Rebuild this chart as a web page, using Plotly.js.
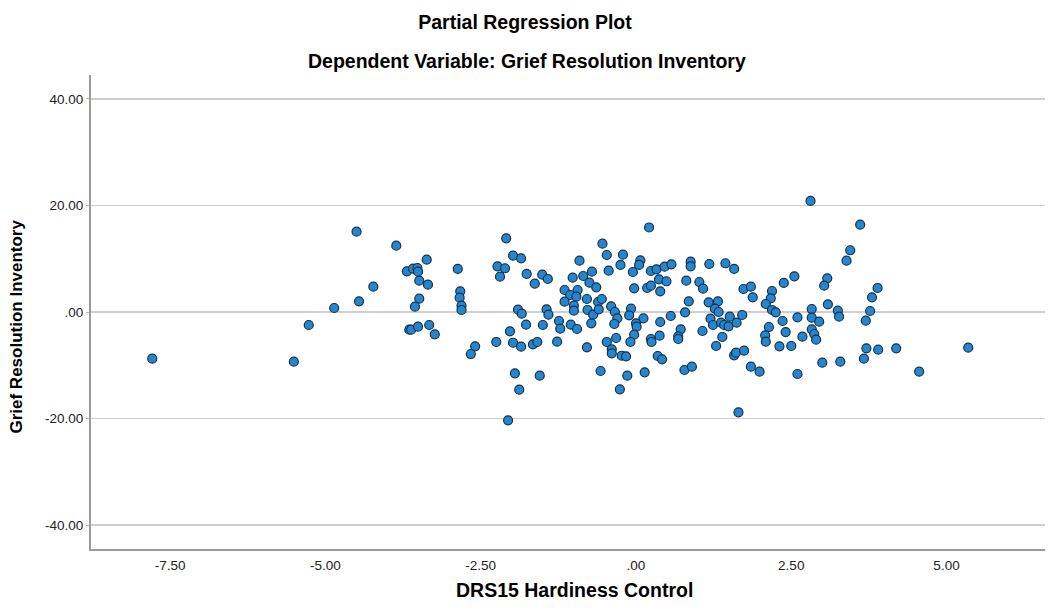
<!DOCTYPE html>
<html>
<head>
<meta charset="utf-8">
<script src="https://cdn.plot.ly/plotly-3.0.1.min.js"></script>
<style>html,body{margin:0;padding:0;background:#fff;}#chart{width:1050px;height:613px;}</style>
</head>
<body>
<div id="chart"></div>
<script>
// DRS15 Hardiness Control (partial residuals)
var hardiness = [
-7.79,-5.51,-5.27,-4.86,-4.50,-4.46,-4.23,-3.86,-3.37,-3.69,-3.59,-3.52,-3.51,-3.49,-3.35,-3.49,-3.56,-3.65,-3.62,-3.51,
-3.33,-3.24,-2.87,-2.83,-2.84,-2.81,-2.81,-2.59,-2.66,-2.25,-2.09,-1.98,-1.85,-2.23,-2.11,-2.19,-1.76,-1.90,-1.84,-1.77,
-2.03,-1.98,-1.85,-1.95,-1.88,-2.06,-1.51,-1.42,-1.63,-1.50,-1.44,-1.41,-1.66,-1.59,-1.55,-1.27,-1.24,-1.22,-1.05,-0.95,
-1.15,-0.94,-1.06,-0.96,-1.15,-1.02,-0.91,-0.85,-0.71,-0.75,-0.64,-1.00,-1.00,-0.79,-0.78,-0.69,-0.72,-0.61,-0.55,-0.60,
-0.79,-0.57,-0.54,-0.47,-0.44,-0.40,-0.34,-0.30,-0.35,-0.47,-0.32,-0.39,-0.39,-0.23,-0.16,-0.26,-0.14,-0.21,-0.25,-0.08,
-0.11,-0.05,-0.03,0.07,0.05,0.12,0.00,0.01,-0.03,-0.09,0.21,0.18,0.14,0.24,0.25,0.24,0.33,0.46,0.57,0.37,
0.49,0.24,0.39,0.88,0.88,1.18,1.44,1.58,0.81,1.02,1.08,0.85,0.79,0.56,0.39,0.38,0.72,0.68,0.68,0.35,
0.42,0.78,0.90,1.07,1.17,1.32,1.27,1.33,1.20,1.24,1.37,1.42,1.51,1.49,1.62,1.71,1.39,1.29,1.58,1.61,
1.74,1.85,1.99,1.65,1.73,1.85,1.88,2.19,2.17,2.09,2.19,2.25,2.38,2.55,2.36,2.41,2.14,2.08,2.09,2.31,
2.50,2.60,2.60,2.81,3.61,3.45,3.39,3.08,3.03,3.89,3.80,3.09,2.83,2.83,2.95,3.25,3.27,3.77,3.70,2.83,
2.87,2.90,2.68,3.00,3.29,3.71,3.67,3.90,4.19,4.56,5.35
];
// Grief Resolution Inventory (partial residuals)
var griefResolution = [
-8.77,-9.33,-2.44,0.75,15.08,2.01,4.75,12.45,9.82,7.64,8.13,8.26,7.57,5.88,5.13,2.50,1.00,-3.32,-3.32,-2.76,
-2.44,-4.19,8.08,3.89,2.69,1.18,0.38,-6.44,-7.89,-5.63,13.84,10.57,10.08,8.58,8.21,6.63,7.14,0.43,-0.32,-2.38,
-3.62,-5.77,-6.52,-11.51,-14.59,-20.34,7.00,6.20,5.31,-2.44,0.51,-0.51,-6.07,-5.63,-11.96,-5.58,-1.69,-3.14,-2.38,-3.19,
4.13,4.13,3.19,2.87,1.93,6.44,9.63,6.76,7.57,5.50,4.64,1.18,0.24,2.44,0.38,-0.51,-2.12,1.88,2.44,0.51,
-6.63,-11.08,12.83,10.70,7.76,1.07,0.00,-1.18,-2.25,-5.63,-4.88,-7.00,-7.76,-8.21,-8.32,-14.52,-11.96,10.76,8.83,0.62,
-0.62,7.51,4.45,9.71,8.83,-1.18,-2.12,-2.76,-4.26,-5.63,15.87,4.51,-11.32,-5.07,-5.63,7.70,8.02,8.51,8.96,6.14,
5.77,4.94,3.89,9.45,8.58,9.01,9.15,8.08,5.88,5.63,4.38,2.01,-0.06,-0.75,-1.88,-4.45,-3.25,-4.56,-5.07,-8.26,
-8.88,-10.89,-10.27,-3.57,1.82,2.01,0.62,0.00,-1.26,-2.44,-2.01,-2.44,-0.88,-2.69,-2.01,-0.56,-4.69,-6.38,-8.13,-7.64,
-7.27,-10.27,-11.21,-18.84,4.32,4.75,2.76,3.94,2.57,1.50,0.38,-0.06,5.45,6.70,-1.69,-3.76,-2.82,-4.38,-5.58,-6.44,
-6.38,-1.00,-11.64,20.85,16.39,11.59,9.63,6.33,4.94,4.51,2.76,1.45,0.56,-1.07,-1.82,0.24,-0.88,0.19,-1.63,-3.25,
-4.13,-5.20,-4.64,-9.52,-9.33,-6.82,-8.77,-7.08,-6.82,-11.21,-6.70
];
var xTickVals = [-7.5, -5, -2.5, 0, 2.5, 5];
var xTickText = ["-7.50", "-5.00", "-2.50", ".00", "2.50", "5.00"];
var yTickVals = [-40, -20, 0, 20, 40];
var yTickText = ["-40.00", "-20.00", ".00", "20.00", "40.00"];
var titleLine1 = "Partial Regression Plot";
var titleLine2 = "Dependent Variable: Grief Resolution Inventory";
var xTitle = "DRS15 Hardiness Control";
var yTitle = "Grief Resolution Inventory";

var FONT = "Liberation Sans, Arial, sans-serif";

var trace = {
  type: "scatter",
  mode: "markers",
  x: hardiness,
  y: griefResolution,
  marker: {size: 9, color: "#2287d0", line: {color: "#1b2f45", width: 1.2}},
  hoverinfo: "x+y"
};

var layout = {
  width: 1050, height: 613,
  paper_bgcolor: "#ffffff", plot_bgcolor: "#ffffff",
  margin: {l: 91, r: 5, t: 75, b: 64},
  showlegend: false,
  font: {family: FONT, color: "#000"},
  title: {text: "<b>" + titleLine1 + "</b>", xref: "container", x: 0.5, xanchor: "center",
          yref: "container", y: 1 - 22/613, yanchor: "middle",
          font: {family: FONT, size: 19.5, color: "#000"}},
  xaxis: {
    range: [-8.776, 6.586], tickvals: xTickVals, ticktext: xTickText,
    showgrid: false, zeroline: false, showline: true, linecolor: "#9a9a9a", linewidth: 2,
    ticks: "", ticklabelstandoff: 3,
    tickfont: {family: FONT, size: 13.5, color: "#222"}
  },
  yaxis: {
    range: [-44.5, 44.5], tickvals: yTickVals, ticktext: yTickText,
    showgrid: true, gridcolor: "#cfcfcf", gridwidth: 1.5,
    zeroline: false, showline: true, linecolor: "#9a9a9a", linewidth: 2,
    ticks: "outside", ticklen: 3, tickcolor: "#bbbbbb",
    tickfont: {family: FONT, size: 13.5, color: "#222"}
  },
  annotations: [
    {text: "<b>" + titleLine2 + "</b>", xref: "paper", yref: "paper",
     x: (526.5 - 91) / 954, y: 1 + (75 - 61) / 473, xanchor: "center", yanchor: "middle",
     showarrow: false, font: {family: FONT, size: 19.5, color: "#000"}},
    {text: "<b>" + xTitle + "</b>", xref: "paper", yref: "paper",
     x: (574 - 91) / 954, y: -(590 - 549) / 473, xanchor: "center", yanchor: "middle",
     showarrow: false, font: {family: FONT, size: 19.5, color: "#000"}},
    {text: "<b>" + yTitle + "</b>", xref: "paper", yref: "paper", textangle: -90,
     x: (17 - 91) / 954, y: (549 - 327) / 473, xanchor: "center", yanchor: "middle",
     showarrow: false, font: {family: FONT, size: 17, color: "#000"}}
  ]
};

Plotly.newPlot("chart", [trace], layout, {displayModeBar: false, staticPlot: true});
</script>
</body>
</html>
